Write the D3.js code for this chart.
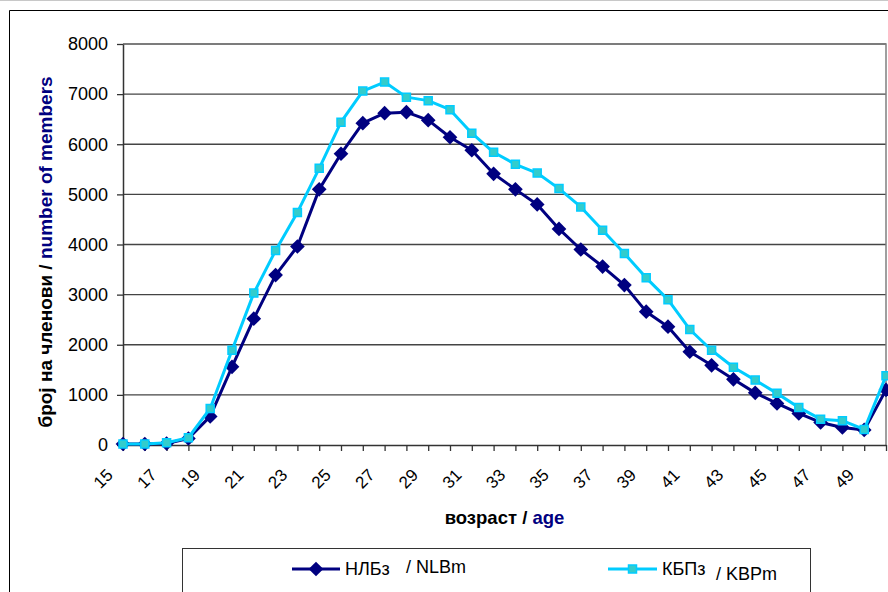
<!DOCTYPE html>
<html>
<head>
<meta charset="utf-8">
<script src="https://cdn.jsdelivr.net/npm/d3@7"></script>
<style>
  body { margin: 0; background: #fff; }
  svg { display: block; font-family: "Liberation Sans", Arial, sans-serif; }
</style>
</head>
<body>
<div id="chart"></div>
<script>
// ages on the x axis
var ages = d3.range(15, 51);

// number of members per age
var nlbm = [20, 20, 30, 130, 570, 1560, 2520, 3390, 3960, 5100, 5810, 6420,
    6620, 6640, 6480, 6140, 5880, 5410, 5100, 4800, 4310, 3900, 3560, 3190,
    2660, 2360, 1860, 1590, 1310, 1040, 830, 630, 450, 350, 300, 1100];
var kbpm = [20, 20, 45, 145, 730, 1890, 3030, 3880, 4640, 5520, 6440, 7060,
    7240, 6940, 6870, 6690, 6220, 5840, 5600, 5425, 5115, 4750, 4285, 3820,
    3335, 2900, 2305, 1890, 1550, 1295, 1030, 750, 515, 485, 310, 1380];

var yTicks = [0, 1000, 2000, 3000, 4000, 5000, 6000, 7000, 8000];
var xLabels = ages.filter(function(a) { return a % 2 == 1; });

var width = 888, height = 592;
var plot = { left: 123, right: 886, top: 44, bottom: 445 };
var fontSize = 18;

var navy = '#000080', cyan = '#00ccff', teal = '#33cccc';

var svg = d3.select('#chart').append('svg')
    .attr('width', width)
    .attr('height', height);

// outer chart border
svg.append('line')
    .attr('x1', 0).attr('x2', width).attr('y1', 0.5).attr('y2', 0.5)
    .attr('stroke', '#c8c8c8');
svg.append('path')
    .attr('d', 'M9.5,' + height + 'V10.5H' + width)
    .attr('fill', 'none')
    .attr('stroke', '#000');

var x = d3.scalePoint()
    .domain(ages)
    .range([plot.left, plot.right]);

var y = d3.scaleLinear()
    .domain([0, 8000])
    .range([plot.bottom, plot.top]);

// gridlines
svg.append('g')
    .selectAll('line')
    .data(yTicks.slice(1))
    .enter()
    .append('line')
    .attr('x1', plot.left).attr('x2', plot.right)
    .attr('y1', d => y(d)).attr('y2', d => y(d))
    .attr('stroke', '#444')
    .attr('stroke-width', 1.3);

// plot area border (top and right)
svg.append('path')
    .attr('d', 'M' + plot.left + ',' + plot.top + 'H' + plot.right + 'V' + plot.bottom)
    .attr('fill', 'none')
    .attr('stroke', '#808080')
    .attr('stroke-width', 1.5);

// y axis
var yAxis = svg.append('g')
    .attr('transform', 'translate(' + plot.left + ',0)')
    .call(d3.axisLeft(y)
        .tickValues(yTicks)
        .tickFormat(d3.format('d'))
        .tickSize(6)
        .tickPadding(9)
        .tickSizeOuter(0));
yAxis.select('.domain').attr('stroke', '#333').attr('stroke-width', 1.5);
yAxis.selectAll('.tick line').attr('stroke', '#333').attr('stroke-width', 1.3);
yAxis.selectAll('text')
    .attr('font-size', fontSize)
    .attr('font-family', '"Liberation Sans", Arial, sans-serif')
    .attr('fill', '#000');

// x axis ticks on every age
var xAxis = svg.append('g')
    .attr('transform', 'translate(0,' + plot.bottom + ')')
    .call(d3.axisBottom(x).tickSize(6).tickSizeOuter(0).tickFormat(''));
xAxis.select('.domain').attr('stroke', '#333').attr('stroke-width', 1.5);
xAxis.selectAll('.tick line').attr('stroke', '#333').attr('stroke-width', 1.3);

// rotated labels on every second age
svg.append('g')
    .selectAll('text')
    .data(xLabels)
    .enter()
    .append('text')
    .attr('transform', d => 'translate(' + (x(d) - 9) + ',476) rotate(-45)')
    .attr('text-anchor', 'end')
    .attr('font-size', 17)
    .text(d => d);

// axis titles
var yTitle = svg.append('text')
    .attr('transform', 'translate(52,252) rotate(-90)')
    .attr('text-anchor', 'middle')
    .attr('font-size', 19)
    .attr('font-weight', 'bold');
yTitle.append('tspan').attr('fill', '#000').text('број на членови / ');
yTitle.append('tspan').attr('fill', navy).text('number of members');

var xTitle = svg.append('text')
    .attr('x', (plot.left + plot.right) / 2)
    .attr('y', 524)
    .attr('text-anchor', 'middle')
    .attr('font-size', fontSize + 0.5)
    .attr('font-weight', 'bold');
xTitle.append('tspan').attr('fill', '#000').text('возраст / ');
xTitle.append('tspan').attr('fill', navy).text('age');

// series
var line = d3.line()
    .x((d, i) => x(ages[i]))
    .y(d => y(d));

var diamond = d3.symbol().type(d3.symbolSquare).size(108);
var square = d3.symbol().type(d3.symbolSquare).size(64);

function draw_series(values, color, marker) {
    var g = svg.append('g');
    g.append('path')
        .attr('d', line(values))
        .attr('fill', 'none')
        .attr('stroke', color)
        .attr('stroke-width', 3)
        .attr('stroke-linejoin', 'round');
    g.selectAll('path.m')
        .data(values)
        .enter()
        .append('path')
        .classed('m', true)
        .attr('transform', function(d, i) {
            var t = 'translate(' + x(ages[i]) + ',' + y(d) + ')';
            return marker == 'diamond' ? t + ' rotate(45)' : t;
        })
        .attr('d', marker == 'diamond' ? diamond : square)
        .attr('fill', marker == 'diamond' ? navy : teal)
        .attr('stroke', color)
        .attr('stroke-width', marker == 'diamond' ? 0 : 1.5);
}

draw_series(nlbm, navy, 'diamond');
draw_series(kbpm, cyan, 'square');

// legend
var legend = svg.append('g');
legend.append('rect')
    .attr('x', 182.5).attr('y', 548.5)
    .attr('width', 628).attr('height', 50)
    .attr('fill', '#fff')
    .attr('stroke', '#333');

var items = [
    { x0: 292, x1: 340, color: navy, marker: 'diamond', name: 'НЛБз', tx: 345, ty: 575, name2: '/ NLBm', tx2: 406, ty2: 573 },
    { x0: 608, x1: 657, color: cyan, marker: 'square', name: 'КБПз', tx: 662, ty: 575, name2: '/ KBPm', tx2: 716, ty2: 580 }
];
items.forEach(function(it) {
    var cy = 569, cx = (it.x0 + it.x1) / 2;
    legend.append('line')
        .attr('x1', it.x0).attr('x2', it.x1)
        .attr('y1', cy).attr('y2', cy)
        .attr('stroke', it.color)
        .attr('stroke-width', 3);
    legend.append('path')
        .attr('transform', 'translate(' + cx + ',' + cy + ')' + (it.marker == 'diamond' ? ' rotate(45)' : ''))
        .attr('d', it.marker == 'diamond' ? diamond : square)
        .attr('fill', it.marker == 'diamond' ? navy : teal)
        .attr('stroke', it.color)
        .attr('stroke-width', it.marker == 'diamond' ? 0 : 1.5);
    legend.append('text')
        .attr('x', it.tx).attr('y', it.ty)
        .attr('font-size', fontSize)
        .text(it.name);
    legend.append('text')
        .attr('x', it.tx2).attr('y', it.ty2)
        .attr('font-size', fontSize)
        .text(it.name2);
});
</script>
</body>
</html>
